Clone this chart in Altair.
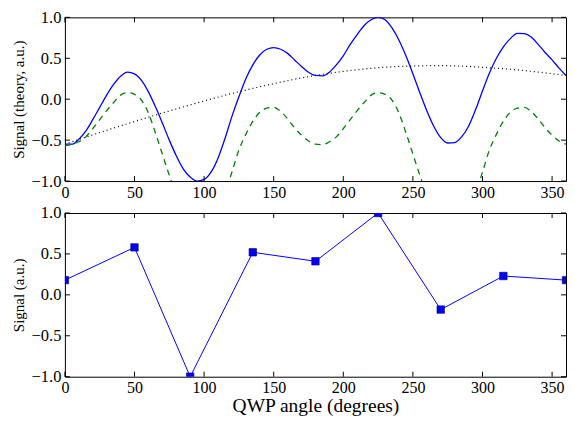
import altair as alt
import pandas as pd

# ---- data ----
angle_theory = list(range(0, 361, 5))
signal_solid = [
    -0.55, -0.55, -0.49, -0.39, -0.25, -0.10, 0.05, 0.18, 0.28, 0.33,
    0.31, 0.23, 0.09, -0.09, -0.29, -0.50, -0.69, -0.85, -0.95, -1.00,
    -0.98, -0.89, -0.72, -0.48, -0.21, 0.03, 0.25, 0.42, 0.54, 0.61,
    0.63, 0.61, 0.56, 0.48, 0.40, 0.33, 0.29, 0.285, 0.33, 0.42,
    0.53, 0.67, 0.79, 0.90, 0.97, 1.00, 0.97, 0.87, 0.72, 0.53,
    0.31, 0.08, -0.14, -0.33, -0.47, -0.535, -0.53, -0.46, -0.33, -0.13,
    0.10, 0.32, 0.50, 0.64, 0.74, 0.805, 0.80, 0.76, 0.67, 0.57,
    0.48, 0.38, 0.29,
]
signal_dashed = [
    -0.57, -0.55, -0.52, -0.46, -0.36, -0.25, -0.14, -0.04, 0.05, 0.08,
    0.06, -0.01, -0.17, -0.41, -0.67, -0.93, -1.17, -1.36, -1.50, -1.58,
    -1.57, -1.48, -1.33, -1.15, -0.89, -0.62, -0.43, -0.27, -0.16, -0.11,
    -0.10, -0.15, -0.24, -0.35, -0.44, -0.51, -0.55, -0.555, -0.52, -0.46,
    -0.36, -0.25, -0.14, -0.04, 0.05, 0.08, 0.06, -0.01, -0.17, -0.41,
    -0.67, -0.93, -1.17, -1.36, -1.50, -1.58, -1.57, -1.48, -1.33, -1.15,
    -0.89, -0.62, -0.43, -0.27, -0.16, -0.11, -0.10, -0.15, -0.24, -0.35,
    -0.44, -0.51, -0.55,
]
trend_angle = [0, 30, 60, 90, 120, 150, 180, 210, 240, 270, 300, 330, 360]
trend_signal = [-0.55, -0.38, -0.22, -0.07, 0.07, 0.19, 0.29, 0.36, 0.40, 0.41, 0.39, 0.35, 0.29]

meas_angle = [0, 50, 90, 135, 180, 225, 270, 315, 360]
meas_signal = [0.18, 0.58, -1.0, 0.52, 0.41, 1.0, -0.18, 0.23, 0.18]

x_ticks = [0, 50, 100, 150, 200, 250, 300, 350]
y_ticks = [-1.0, -0.5, 0.0, 0.5, 1.0]

# ---- styling ----
W, H = 502, 164
FONT = "Liberation Serif"
TL = 5  # inward tick length

xs = alt.Scale(domain=[0, 360], nice=False, zero=False)
ys = alt.Scale(domain=[-1, 1], nice=False, zero=False)


def x_axis(title=None):
    kw = dict(values=x_ticks, format="d", ticks=False, domain=False, grid=False,
              labelFont=FONT, labelFontSize=16, labelColor="black",
              labelPadding=3, labelFlush=False, labelOverlap=False)
    if title:
        kw.update(title=title, titleFont=FONT, titleFontSize=19.5, titleFontWeight="normal",
                  titleColor="black", titlePadding=1)
    else:
        kw.update(title=None)
    return alt.Axis(**kw)


def y_axis(title):
    return alt.Axis(values=y_ticks, format=".1f", ticks=False, domain=False, grid=False,
                    labelFont=FONT, labelFontSize=16.5, labelColor="black",
                    labelPadding=4, labelFlush=False, labelOverlap=False,
                    title=title, titleFont=FONT, titleFontSize=15,
                    titleFontWeight="normal", titleColor="black", titlePadding=5)


def inward_ticks(xax, yax):
    xt = alt.Chart(pd.DataFrame({"t": x_ticks})).mark_rule(color="black", strokeWidth=1)
    yt = alt.Chart(pd.DataFrame({"t": y_ticks})).mark_rule(color="black", strokeWidth=1)
    xe = alt.X("t:Q", scale=xs, axis=xax)
    ye = alt.Y("t:Q", scale=ys, axis=yax)
    return [
        xt.encode(x=xe, y=alt.value(H), y2=alt.value(H - TL)),
        xt.encode(x=xe, y=alt.value(0), y2=alt.value(TL)),
        yt.encode(y=ye, x=alt.value(0), x2=alt.value(TL)),
        yt.encode(y=ye, x=alt.value(W), x2=alt.value(W - TL)),
    ]


theory_df = pd.DataFrame({"angle": angle_theory, "solid": signal_solid, "dashed": signal_dashed})
trend_df = pd.DataFrame({"angle": trend_angle, "trend": trend_signal})
meas_df = pd.DataFrame({"angle": meas_angle, "signal": meas_signal})

top_x = x_axis()
top_y = y_axis("Signal (theory, a.u.)")
bot_x = x_axis("QWP angle (degrees)")
bot_y = y_axis("Signal (a.u.)")

solid = alt.Chart(theory_df).mark_line(color="#0000ff", strokeWidth=1.3, clip=True,
                                       interpolate="monotone").encode(
    x=alt.X("angle:Q", scale=xs, axis=top_x),
    y=alt.Y("solid:Q", scale=ys, axis=top_y),
)
dashed = alt.Chart(theory_df).mark_line(color="#008000", strokeWidth=1.3, strokeDash=[6, 5],
                                        clip=True, interpolate="monotone").encode(
    x=alt.X("angle:Q", scale=xs, axis=top_x),
    y=alt.Y("dashed:Q", scale=ys, axis=top_y),
)
dotted = alt.Chart(trend_df).mark_line(color="black", strokeWidth=1.2, strokeDash=[1, 3],
                                       clip=True, interpolate="monotone").encode(
    x=alt.X("angle:Q", scale=xs, axis=top_x),
    y=alt.Y("trend:Q", scale=ys, axis=top_y),
)
top = alt.layer(solid, dashed, dotted, *inward_ticks(top_x, top_y)).properties(width=W, height=H)

meas_line = alt.Chart(meas_df).mark_line(color="#0000ff", strokeWidth=1, clip=True).encode(
    x=alt.X("angle:Q", scale=xs, axis=bot_x),
    y=alt.Y("signal:Q", scale=ys, axis=bot_y),
)
meas_pts = alt.Chart(meas_df).mark_point(shape="square", filled=True, size=56, color="#0000ff",
                                         stroke="#000060", strokeWidth=0.6, opacity=1,
                                         clip=True).encode(
    x=alt.X("angle:Q", scale=xs, axis=bot_x),
    y=alt.Y("signal:Q", scale=ys, axis=bot_y),
)
bottom = alt.layer(meas_line, meas_pts, *inward_ticks(bot_x, bot_y)).properties(width=W, height=H)

chart = alt.vconcat(top, bottom, spacing=32, bounds="flush").properties(
    padding={"left": 2, "top": 0, "right": 0, "bottom": 0},
    background="white",
).configure_view(stroke="black", strokeWidth=1)

chart.save("out.html", embed_options={"renderer": "svg", "actions": False})
